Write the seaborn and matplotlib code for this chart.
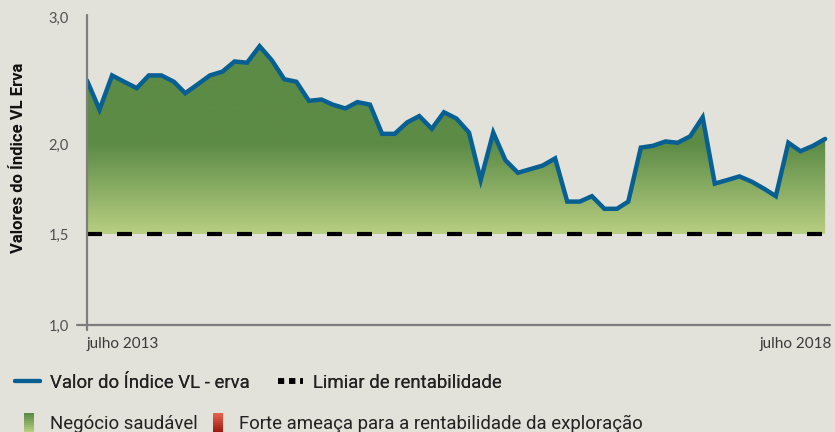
import numpy as np
import pandas as pd
import matplotlib
matplotlib.use("Agg")
import matplotlib.pyplot as plt
import seaborn as sns
from matplotlib.lines import Line2D
from matplotlib.patches import Rectangle
from matplotlib.legend_handler import HandlerBase
from matplotlib.colors import to_rgb

# monthly values, julho 2013 .. julho 2018
months = pd.date_range("2013-07-01", periods=61, freq="MS")
vl_index = [2.50, 2.27, 2.54, 2.49, 2.44, 2.54, 2.54, 2.49, 2.40, 2.47,
            2.54, 2.57, 2.65, 2.64, 2.77, 2.66, 2.51, 2.49, 2.34, 2.35,
            2.31, 2.28, 2.33, 2.31, 2.08, 2.08, 2.17, 2.22, 2.12, 2.25,
            2.20, 2.09, 1.80, 2.09, 1.91, 1.84, 1.86, 1.88, 1.92, 1.68,
            1.68, 1.71, 1.64, 1.64, 1.68, 1.98, 1.99, 2.02, 2.01, 2.06,
            2.21, 1.78, 1.80, 1.82, 1.79, 1.75, 1.71, 2.01, 1.96, 1.99,
            2.04]
threshold = 1.5
y_ticks = [1.0, 1.5, 2.0, 3.0]
y_tick_labels = ["1,0", "1,5", "2,0", "3,0"]
x_labels = ["julho 2013", "julho 2018"]

BG = "#e2e2db"
BLUE = "#075f92"
GREEN_DARK = "#5c8b46"
GREEN_LIGHT = "#b8cf81"
AXIS_GREY = "#7d7d7d"

sns.set_style("white", {"axes.facecolor": BG, "figure.facecolor": BG})
plt.rcParams["font.family"] = ["Lato", "DejaVu Sans"]

# uneven y axis: 1->1.5 and 1.5->2 same height, 2->3 a bit larger
y_knots = [1.0, 1.5, 2.0, 3.0, 4.0]
px_knots = [0, 91, 181, 308, 435]


def fwd(v):
    return np.interp(v, y_knots, px_knots, left=-1e3, right=1e4)


def inv(p):
    return np.interp(p, px_knots, y_knots)


fig = plt.figure(figsize=(8.35, 4.32), dpi=100)
ax = fig.add_axes([87 / 835, 107 / 432, 743 / 835, 310 / 432])
ax.set_yscale("function", functions=(fwd, inv))

df = pd.DataFrame({"month": months, "valor": vl_index})

# gradient fill between threshold and the index line
poly = ax.fill_between(df["month"], threshold, df["valor"], facecolor="none", edgecolor="none")
f15 = 91 / 310
f20 = 181 / 310
fr = np.linspace(0, 1, 400)
t = np.clip((fr - f15) / (f20 - f15), 0, 1)
c0 = np.array(to_rgb(GREEN_LIGHT))
c1 = np.array(to_rgb(GREEN_DARK))
grad = (c0[None, :] * (1 - t[:, None]) + c1[None, :] * t[:, None])[:, None, :]
img = ax.imshow(grad, extent=(0, 1, 0, 1), transform=ax.transAxes, origin="lower",
                aspect="auto", interpolation="bilinear", zorder=1)
img.set_clip_path(poly.get_paths()[0], transform=ax.transData)

ax.axhline(threshold, color="black", lw=3, dashes=(3.6, 3.6), zorder=3)
sns.lineplot(data=df, x="month", y="valor", ax=ax, color=BLUE, lw=3.2,
             solid_joinstyle="miter", zorder=4)

ax.set_xlim(months[0], months[-1] + pd.Timedelta(days=12))
ax.set_ylim(1.0, inv(310))

for s in ax.spines.values():
    s.set_visible(False)
ax.plot([0, 0], [-0.016, 1], transform=ax.transAxes, color=AXIS_GREY, lw=1.6,
        clip_on=False, zorder=5)
ax.plot([-0.014, 1], [0, 0], transform=ax.transAxes, color=AXIS_GREY, lw=1.6,
        clip_on=False, zorder=5)

ax.set_yticks(y_ticks)
ax.set_yticklabels(y_tick_labels)
ax.yaxis.set_minor_locator(matplotlib.ticker.NullLocator())
ax.tick_params(axis="y", length=0, pad=13, labelsize=10.5, labelcolor="#505050")
ax.set_xticks([])
ax.set_xlabel("")
ax.set_ylabel("Valores do Índice VL Erva", fontsize=12, fontweight="bold",
              color="#111111", family=["Roboto", "DejaVu Sans"])
ax.yaxis.set_label_coords(-0.082, 0.54)
ax.text(0.0, -0.038, x_labels[0], transform=ax.transAxes, ha="left", va="top",
        fontsize=11, color="#3a3a3a")
ax.text(1.003, -0.038, x_labels[1], transform=ax.transAxes, ha="right", va="top",
        fontsize=11, color="#3a3a3a")


class GradientHandler(HandlerBase):
    def __init__(self, top, bottom):
        super().__init__()
        self.top = np.array(to_rgb(top))
        self.bottom = np.array(to_rgb(bottom))

    def create_artists(self, legend, orig_handle, xdescent, ydescent, width, height,
                       fontsize, trans):
        n = 10
        arts = []
        h = height * 1.5
        y0 = -ydescent - height * 0.3
        for i in range(n):
            frac = i / (n - 1)
            col = self.bottom * (1 - frac) + self.top * frac
            arts.append(Rectangle((-xdescent, y0 + h * i / n), width, h / n + 0.3,
                                  facecolor=col, edgecolor="none", transform=trans))
        return arts


leg_font = {"family": ["Roboto", "DejaVu Sans"], "size": 13.4}

h_line = Line2D([], [], color=BLUE, lw=3)
h_dash = Line2D([], [], color="black", lw=4, dashes=(1.1, 0.9))
leg1 = fig.legend([h_line, h_dash], ["Valor do Índice VL - erva", "Limiar de rentabilidade"],
                  loc="center left", bbox_to_anchor=(7.6 / 835, 1 - 383 / 432), ncol=2,
                  frameon=False, prop=leg_font, handlelength=1.35, handletextpad=0.54,
                  columnspacing=1.5, labelcolor="#222222", borderaxespad=0)


class GreenBox:
    pass


class RedBox:
    pass


g_box, r_box = GreenBox(), RedBox()
leg2 = fig.legend([g_box, r_box], ["Negócio saudável", "Forte ameaça para a rentabilidade da exploração"],
                  loc="center left", bbox_to_anchor=(16.6 / 835, 1 - 424 / 432), ncol=2,
                  frameon=False, prop=leg_font, handlelength=0.54, handletextpad=0.86,
                  columnspacing=0.8, labelcolor="#222222", borderaxespad=0,
                  handler_map={GreenBox: GradientHandler("#5c8b46", "#b8cf81"),
                               RedBox: GradientHandler("#e2604a", "#9a1a12")})
fig.add_artist(leg1)

fig.savefig("out.png", dpi=100, facecolor=BG)
